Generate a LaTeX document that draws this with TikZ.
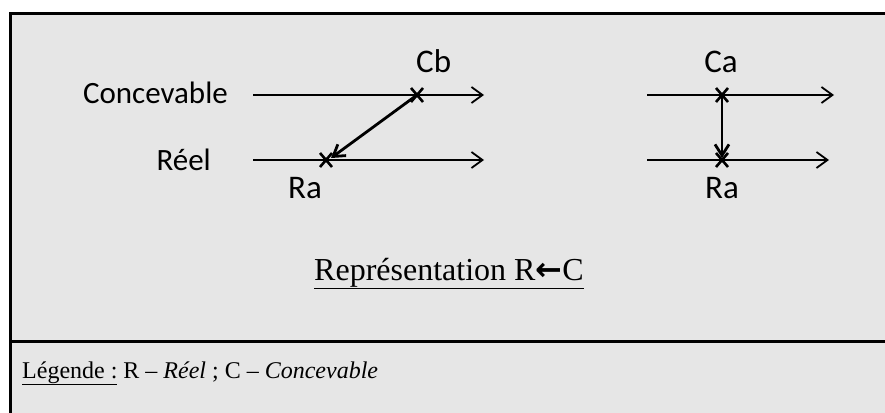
\documentclass[tikz,border=0pt]{standalone}
\usepackage{fontspec}
\setmainfont{Liberation Serif}
\newfontfamily\calfont{Carlito}
\newfontfamily\arrfont{DejaVu Sans}
\usetikzlibrary{arrows.meta}
\definecolor{bggray}{HTML}{E6E6E6}
\tikzset{
  axis/.style={line width=1.8pt,-{Straight Barb[length=11pt,width=16pt,line width=1.8pt]}},
  link/.style={line width=2.8pt,-{Straight Barb[length=11pt,width=14pt,line width=2.8pt]}},
  crossmark/.style={line width=2.6pt},
  sanslabel/.style={inner sep=0pt,font=\calfont\fontsize{31}{36}\selectfont},
  biglabel/.style={inner sep=0pt,font=\calfont\fontsize{33}{38}\selectfont},
  seriflabel/.style={inner sep=0pt},
  frame/.style={line width=3pt}
}
\begin{document}
\begin{tikzpicture}[x=1pt,y=-1pt]
\useasboundingbox (0,0) rectangle (885,412);
\fill[bggray] (10.5,13.5) rectangle (886,413);
\draw[frame] (886,13.5) -- (10.5,13.5) -- (10.5,413);
\draw[frame] (9,341) -- (886,341);

% left diagram
\coordinate (c1s) at (253,95);
\coordinate (c1e) at (484,95);
\coordinate (r1s) at (253,160);
\coordinate (r1e) at (484,160);
\coordinate (cb) at (417,95);
\coordinate (ra) at (326,160);
\coordinate (rat) at (331,158);
\draw[axis] (c1s) -- (c1e);
\draw[axis] (r1s) -- (r1e);
\foreach \p in {cb,ra}{
  \draw[crossmark] ([shift={(-6,-7)}]\p) -- ([shift={(6,7)}]\p);
  \draw[crossmark] ([shift={(-6,7)}]\p) -- ([shift={(6,-7)}]\p);
}
\draw[link] (cb) -- (rat);

\node[sanslabel,anchor=base east] (lc) at (228,103) {Concevable};
\node[sanslabel,anchor=base east] (lr) at (211,170) {Réel};
\node[biglabel,anchor=base west] (lcb) at (416,72) {Cb};
\node[biglabel,anchor=base west] (lra) at (288,198) {Ra};

% right diagram
\coordinate (c2s) at (647,95);
\coordinate (c2e) at (834,95);
\coordinate (r2s) at (647,160);
\coordinate (r2e) at (829,160);
\coordinate (ca) at (722,95);
\coordinate (ra2) at (722,160);
\coordinate (ra2t) at (722,158);
\foreach \p in {ca,ra2}{
  \draw[crossmark] ([shift={(-6,-7)}]\p) -- ([shift={(6,7)}]\p);
  \draw[crossmark] ([shift={(-6,7)}]\p) -- ([shift={(6,-7)}]\p);
}
\draw[axis] (c2s) -- (c2e);
\draw[axis] (r2s) -- (r2e);
\draw[link] (ca) -- (ra2t);
\node[biglabel,anchor=base] (lca) at (721,72) {Ca};
\node[biglabel,anchor=base] (lra2) at (722,198) {Ra};

% captions
\node[seriflabel,anchor=base west,font=\fontsize{32}{38}\selectfont] (rep) at (314,280)
  {\underline{Représentation R{\arrfont\bfseries ←}C}};
\node[seriflabel,anchor=base west,font=\fontsize{24}{29}\selectfont] (leg) at (22,378)
  {\underline{Légende :} R – \textit{Réel} ; C – \textit{Concevable}};
\end{tikzpicture}
\end{document}
